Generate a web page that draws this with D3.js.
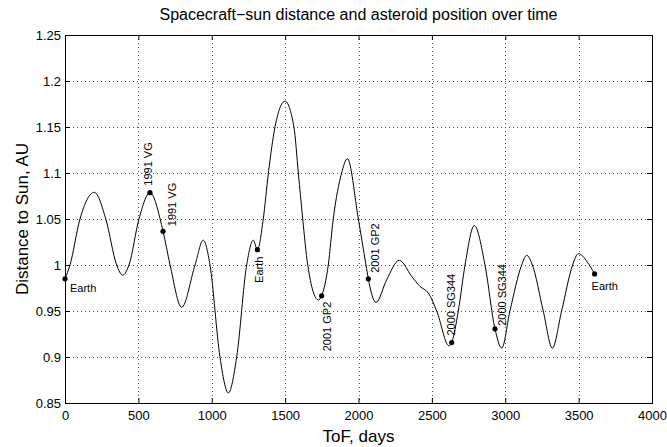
<!DOCTYPE html>
<html>
<head>
<meta charset="utf-8">
<script src="https://cdn.jsdelivr.net/npm/d3@7"></script>
<style>
  html, body { margin: 0; padding: 0; background: #fff; }
  svg { display: block; font-family: "Liberation Sans", Arial, Helvetica, sans-serif; }
</style>
</head>
<body>
<svg id="chart" width="667" height="447"></svg>
<script>
// ---- Data ----
const tofDays = [0, 34, 102, 200, 278, 352, 393, 436, 504, 579, 668, 716, 795, 886, 942, 988, 1056, 1113, 1170, 1238, 1283, 1311, 1351, 1386, 1431, 1499, 1560, 1590, 1620, 1654, 1726, 1749, 1794, 1828, 1885, 1924, 1999, 2051, 2067, 2119, 2192, 2278, 2362, 2419, 2476, 2533, 2617, 2635, 2680, 2726, 2789, 2862, 2930, 2976, 3032, 3112, 3146, 3185, 3259, 3321, 3384, 3459, 3498, 3560, 3609];
const distAU  = [0.985, 1.0, 1.05, 1.079, 1.05, 1.0, 0.989, 1.0, 1.05, 1.0786, 1.0367, 1.0, 0.954, 1.0, 1.027, 1.0, 0.9, 0.861, 0.9, 1.0, 1.027, 1.0167, 1.05, 1.1, 1.15, 1.178, 1.15, 1.1, 1.05, 1.0, 0.962, 0.9666, 1.0, 1.05, 1.1, 1.1156, 1.05, 1.0, 0.985, 0.9593, 0.984, 1.0051, 0.9877, 0.9767, 0.9695, 0.95, 0.9121, 0.9157, 0.95, 1.0, 1.0429, 1.0, 0.9306, 0.9096, 0.95, 1.0, 1.0105, 1.0, 0.95, 0.9096, 0.95, 1.0, 1.0124, 1.003, 0.9903];

const eventDays  = [0, 579, 668, 1311, 1749, 2067, 2635, 2930, 3609];
const eventAU    = [0.985, 1.0786, 1.0367, 1.0167, 0.9666, 0.985, 0.9157, 0.9306, 0.9903];
const eventNames = ["Earth", "1991 VG", "1991 VG", "Earth", "2001 GP2", "2001 GP2", "2000 SG344", "2000 SG344", "Earth"];

const xTicks = [0, 500, 1000, 1500, 2000, 2500, 3000, 3500, 4000];
const yTicks = [0.85, 0.9, 0.95, 1, 1.05, 1.1, 1.15, 1.2, 1.25];
const xTickLabels = ["0", "500", "1000", "1500", "2000", "2500", "3000", "3500", "4000"];
const yTickLabels = ["0.85", "0.9", "0.95", "1", "1.05", "1.1", "1.15", "1.2", "1.25"];

const titleText = "Spacecraft\u2212sun distance and asteroid position over time";
const xLabelText = "ToF, days";
const yLabelText = "Distance to Sun, AU";

// ---- Layout ----
const L = 65, R = 652, T = 35, B = 403;
const svg = d3.select("#chart");
const x = d3.scaleLinear().domain([0, 4000]).range([L, R]);
const y = d3.scaleLinear().domain([0.85, 1.25]).range([B, T]);

// grid
const grid = svg.append("g").attr("stroke", "#555").attr("stroke-width", 1).attr("stroke-dasharray", "1,3");
grid.selectAll(".gx").data(xTicks.slice(1, -1)).join("line")
  .attr("x1", d => Math.round(x(d)) + 0.5).attr("x2", d => Math.round(x(d)) + 0.5)
  .attr("y1", T).attr("y2", B);
grid.selectAll(".gy").data(yTicks.slice(1, -1)).join("line")
  .attr("y1", d => Math.round(y(d)) + 0.5).attr("y2", d => Math.round(y(d)) + 0.5)
  .attr("x1", L).attr("x2", R);

// axes
function styleAxis(g) {
  g.select(".domain").remove();
  g.selectAll("line").attr("stroke", "#000");
  g.selectAll("text").attr("fill", "#000").attr("font-size", 13);
}
svg.append("g").attr("transform", `translate(0,${B})`)
  .call(d3.axisBottom(x).tickValues(xTicks).tickFormat((d, i) => xTickLabels[i]).tickSizeInner(-5).tickSizeOuter(0).tickPadding(8))
  .call(styleAxis);
svg.append("g").attr("transform", `translate(0,${T})`)
  .call(d3.axisTop(x).tickValues(xTicks).tickFormat("").tickSizeInner(-5).tickSizeOuter(0))
  .call(styleAxis);
svg.append("g").attr("transform", `translate(${L},0)`)
  .call(d3.axisLeft(y).tickValues(yTicks).tickFormat((d, i) => yTickLabels[i]).tickSizeInner(-5).tickSizeOuter(0).tickPadding(4))
  .call(styleAxis);
svg.append("g").attr("transform", `translate(${R},0)`)
  .call(d3.axisRight(y).tickValues(yTicks).tickFormat("").tickSizeInner(-5).tickSizeOuter(0))
  .call(styleAxis);

// frame
svg.append("rect").attr("x", L + 0.5).attr("y", T + 0.5).attr("width", R - L).attr("height", B - T)
  .attr("fill", "none").attr("stroke", "#000").attr("stroke-width", 1);

// curve
const pts = tofDays.map((d, i) => [d, distAU[i]]);
const line = d3.line().x(d => x(d[0])).y(d => y(d[1])).curve(d3.curveMonotoneX);
svg.append("path").datum(pts).attr("d", line).attr("fill", "none").attr("stroke", "#000").attr("stroke-width", 1);

// markers
const ev = eventDays.map((d, i) => ({ d, v: eventAU[i], name: eventNames[i], i }));
svg.selectAll(".mk").data(ev).join("circle")
  .attr("cx", e => x(e.d)).attr("cy", e => y(e.v)).attr("r", 2.6).attr("fill", "#000");

// labels (placement offsets relative to each marker)
const labelStyle = [
  { rot: false, dx: 5,  dy: 13, anchor: "start" },
  { rot: true,  dx: 2,  dy: -7, anchor: "start" },
  { rot: true,  dx: 13, dy: -5, anchor: "start" },
  { rot: true,  dx: 6,  dy: 7,  anchor: "end" },
  { rot: true,  dx: 9,  dy: 6,  anchor: "end" },
  { rot: true,  dx: 11, dy: -6, anchor: "start" },
  { rot: true,  dx: 3,  dy: -7, anchor: "start" },
  { rot: true,  dx: 11, dy: -3, anchor: "start" },
  { rot: false, dx: -3, dy: 16, anchor: "start" }
];
svg.selectAll(".lb").data(ev).join("text")
  .attr("font-size", 11).attr("fill", "#000")
  .attr("text-anchor", e => labelStyle[e.i].anchor)
  .attr("transform", e => {
    const s = labelStyle[e.i];
    const px = x(e.d) + s.dx, py = y(e.v) + s.dy;
    return s.rot ? `translate(${px},${py}) rotate(-90)` : `translate(${px},${py})`;
  })
  .text(e => e.name);

// titles
svg.append("text").attr("x", (L + R) / 2).attr("y", 20).attr("text-anchor", "middle")
  .attr("font-size", 16).text(titleText);
svg.append("text").attr("x", (L + R) / 2).attr("y", 442).attr("text-anchor", "middle")
  .attr("font-size", 17).text(xLabelText);
svg.append("text").attr("transform", `translate(28,${(T + B) / 2}) rotate(-90)`).attr("text-anchor", "middle")
  .attr("font-size", 17).text(yLabelText);
</script>
</body>
</html>
